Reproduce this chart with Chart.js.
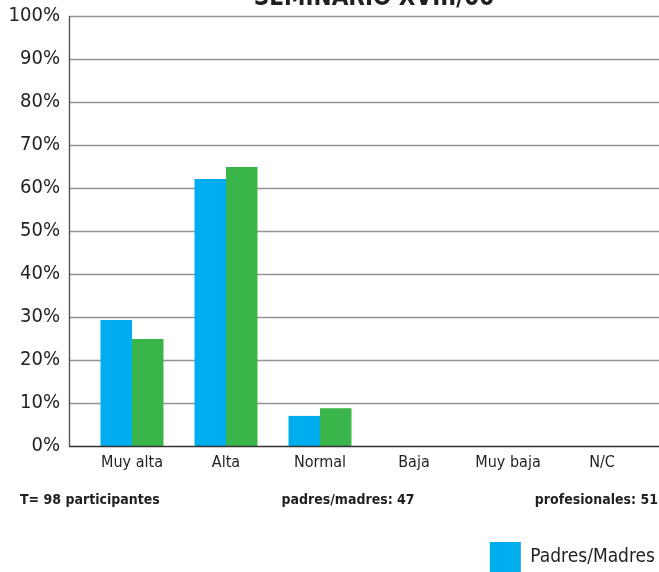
<!DOCTYPE html>
<html>
<head>
<meta charset="utf-8">
<script src="https://cdn.jsdelivr.net/npm/chart.js"></script>
<style>
  html, body { margin: 0; padding: 0; background: #fff; }
</style>
</head>
<body>
<canvas id="chart" width="659" height="572"></canvas>
<script>
const CATEGORIES = ['Muy alta', 'Alta', 'Normal', 'Baja', 'Muy baja', 'N/C'];
const PADRES_MADRES = [29.3, 62.1, 7.0, 0, 0, 0];
const PROFESIONALES = [24.9, 64.9, 8.8, 0, 0, 0];
const TITLE_TEXT = 'SEMINARIO XVIII/00';
const FOOTER_LEFT = 'T= 98 participantes';
const FOOTER_MID = 'padres/madres: 47';
const FOOTER_RIGHT = 'profesionales: 51';

const FONT = "'Liberation Sans Narrow', 'DejaVu Sans Condensed', sans-serif";
const BLUE = '#00aeef';
const GREEN = '#3ab54a';

// gridlines reach further than the bars do, so draw them by hand off the y scale
const framePlugin = {
  id: 'frame',
  beforeDatasetsDraw(chart) {
    const ctx = chart.ctx;
    const y = chart.scales.y;
    const left = 69;
    const right = chart.width;
    ctx.save();
    ctx.lineWidth = 1.4;
    ctx.strokeStyle = '#939393';
    y.ticks.forEach((t) => {
      if (t.value === 0) return;
      let py = Math.round(y.getPixelForValue(t.value)) + 0.5;
      ctx.beginPath();
      ctx.moveTo(left, py);
      ctx.lineTo(right, py);
      ctx.stroke();
    });
    ctx.strokeStyle = '#555';
    ctx.beginPath();
    ctx.moveTo(left + 0.5, y.getPixelForValue(100));
    ctx.lineTo(left + 0.5, y.getPixelForValue(0));
    ctx.stroke();
    ctx.restore();
  },
  afterDatasetsDraw(chart) {
    const ctx = chart.ctx;
    const y = chart.scales.y;
    ctx.save();
    ctx.lineWidth = 1.6;
    ctx.strokeStyle = '#333';
    let py = Math.round(y.getPixelForValue(0)) + 0.5;
    ctx.beginPath();
    ctx.moveTo(69, py);
    ctx.lineTo(chart.width, py);
    ctx.stroke();
    ctx.restore();
  },
  afterDraw(chart) {
    const ctx = chart.ctx;
    ctx.save();
    ctx.fillStyle = '#231f20';
    ctx.textBaseline = 'alphabetic';
    ctx.font = 'bold 24px ' + FONT;
    ctx.textAlign = 'center';
    ctx.fillText(TITLE_TEXT, 374, 5);

    ctx.font = 'bold 14px ' + FONT;
    ctx.textBaseline = 'middle';
    ctx.textAlign = 'left';
    ctx.fillText(FOOTER_LEFT, 20, 500);
    ctx.textAlign = 'center';
    ctx.fillText(FOOTER_MID, 348, 500);
    ctx.textAlign = 'right';
    ctx.fillText(FOOTER_RIGHT, 658, 500);
    ctx.restore();
  },
};

new Chart(document.getElementById('chart'), {
  type: 'bar',
  data: {
    labels: CATEGORIES,
    datasets: [
      { label: 'Padres/Madres', data: PADRES_MADRES, backgroundColor: BLUE },
      { label: 'Profesionales', data: PROFESIONALES, backgroundColor: GREEN },
    ],
  },
  options: {
    responsive: false,
    animation: false,
    categoryPercentage: 0.67,
    barPercentage: 1.0,
    layout: { padding: { top: 16, left: 0, right: 0, bottom: -10 } },
    plugins: {
      tooltip: { enabled: false },
      legend: {
        position: 'bottom',
        align: 'end',
        labels: {
          boxWidth: 31,
          boxHeight: 30,
          padding: 4,
          color: '#231f20',
          font: { family: FONT, size: 19 },
          filter: (item) => item.datasetIndex === 0,
        },
      },
    },
    scales: {
      x: {
        grid: { display: false, drawTicks: false },
        border: { display: false },
        ticks: { color: '#231f20', padding: 7, font: { family: FONT, size: 16 } },
        afterFit: (s) => { s.height = 92; },
      },
      y: {
        min: 0,
        max: 100,
        grid: { display: false, drawTicks: false },
        border: { display: false },
        ticks: {
          stepSize: 10,
          padding: 25,
          color: '#231f20',
          font: { family: FONT, size: 20 },
          callback: (v) => v + '%',
        },
        afterFit: (s) => {
          s.width = 85;
          s.paddingTop = 0;
          s.paddingBottom = 0;
        },
      },
      yRight: {
        position: 'right',
        display: true,
        grid: { display: false, drawTicks: false },
        border: { display: false },
        ticks: { display: false },
        afterFit: (s) => { s.width = 10; },
      },
    },
  },
  plugins: [framePlugin],
});
</script>
</body>
</html>
